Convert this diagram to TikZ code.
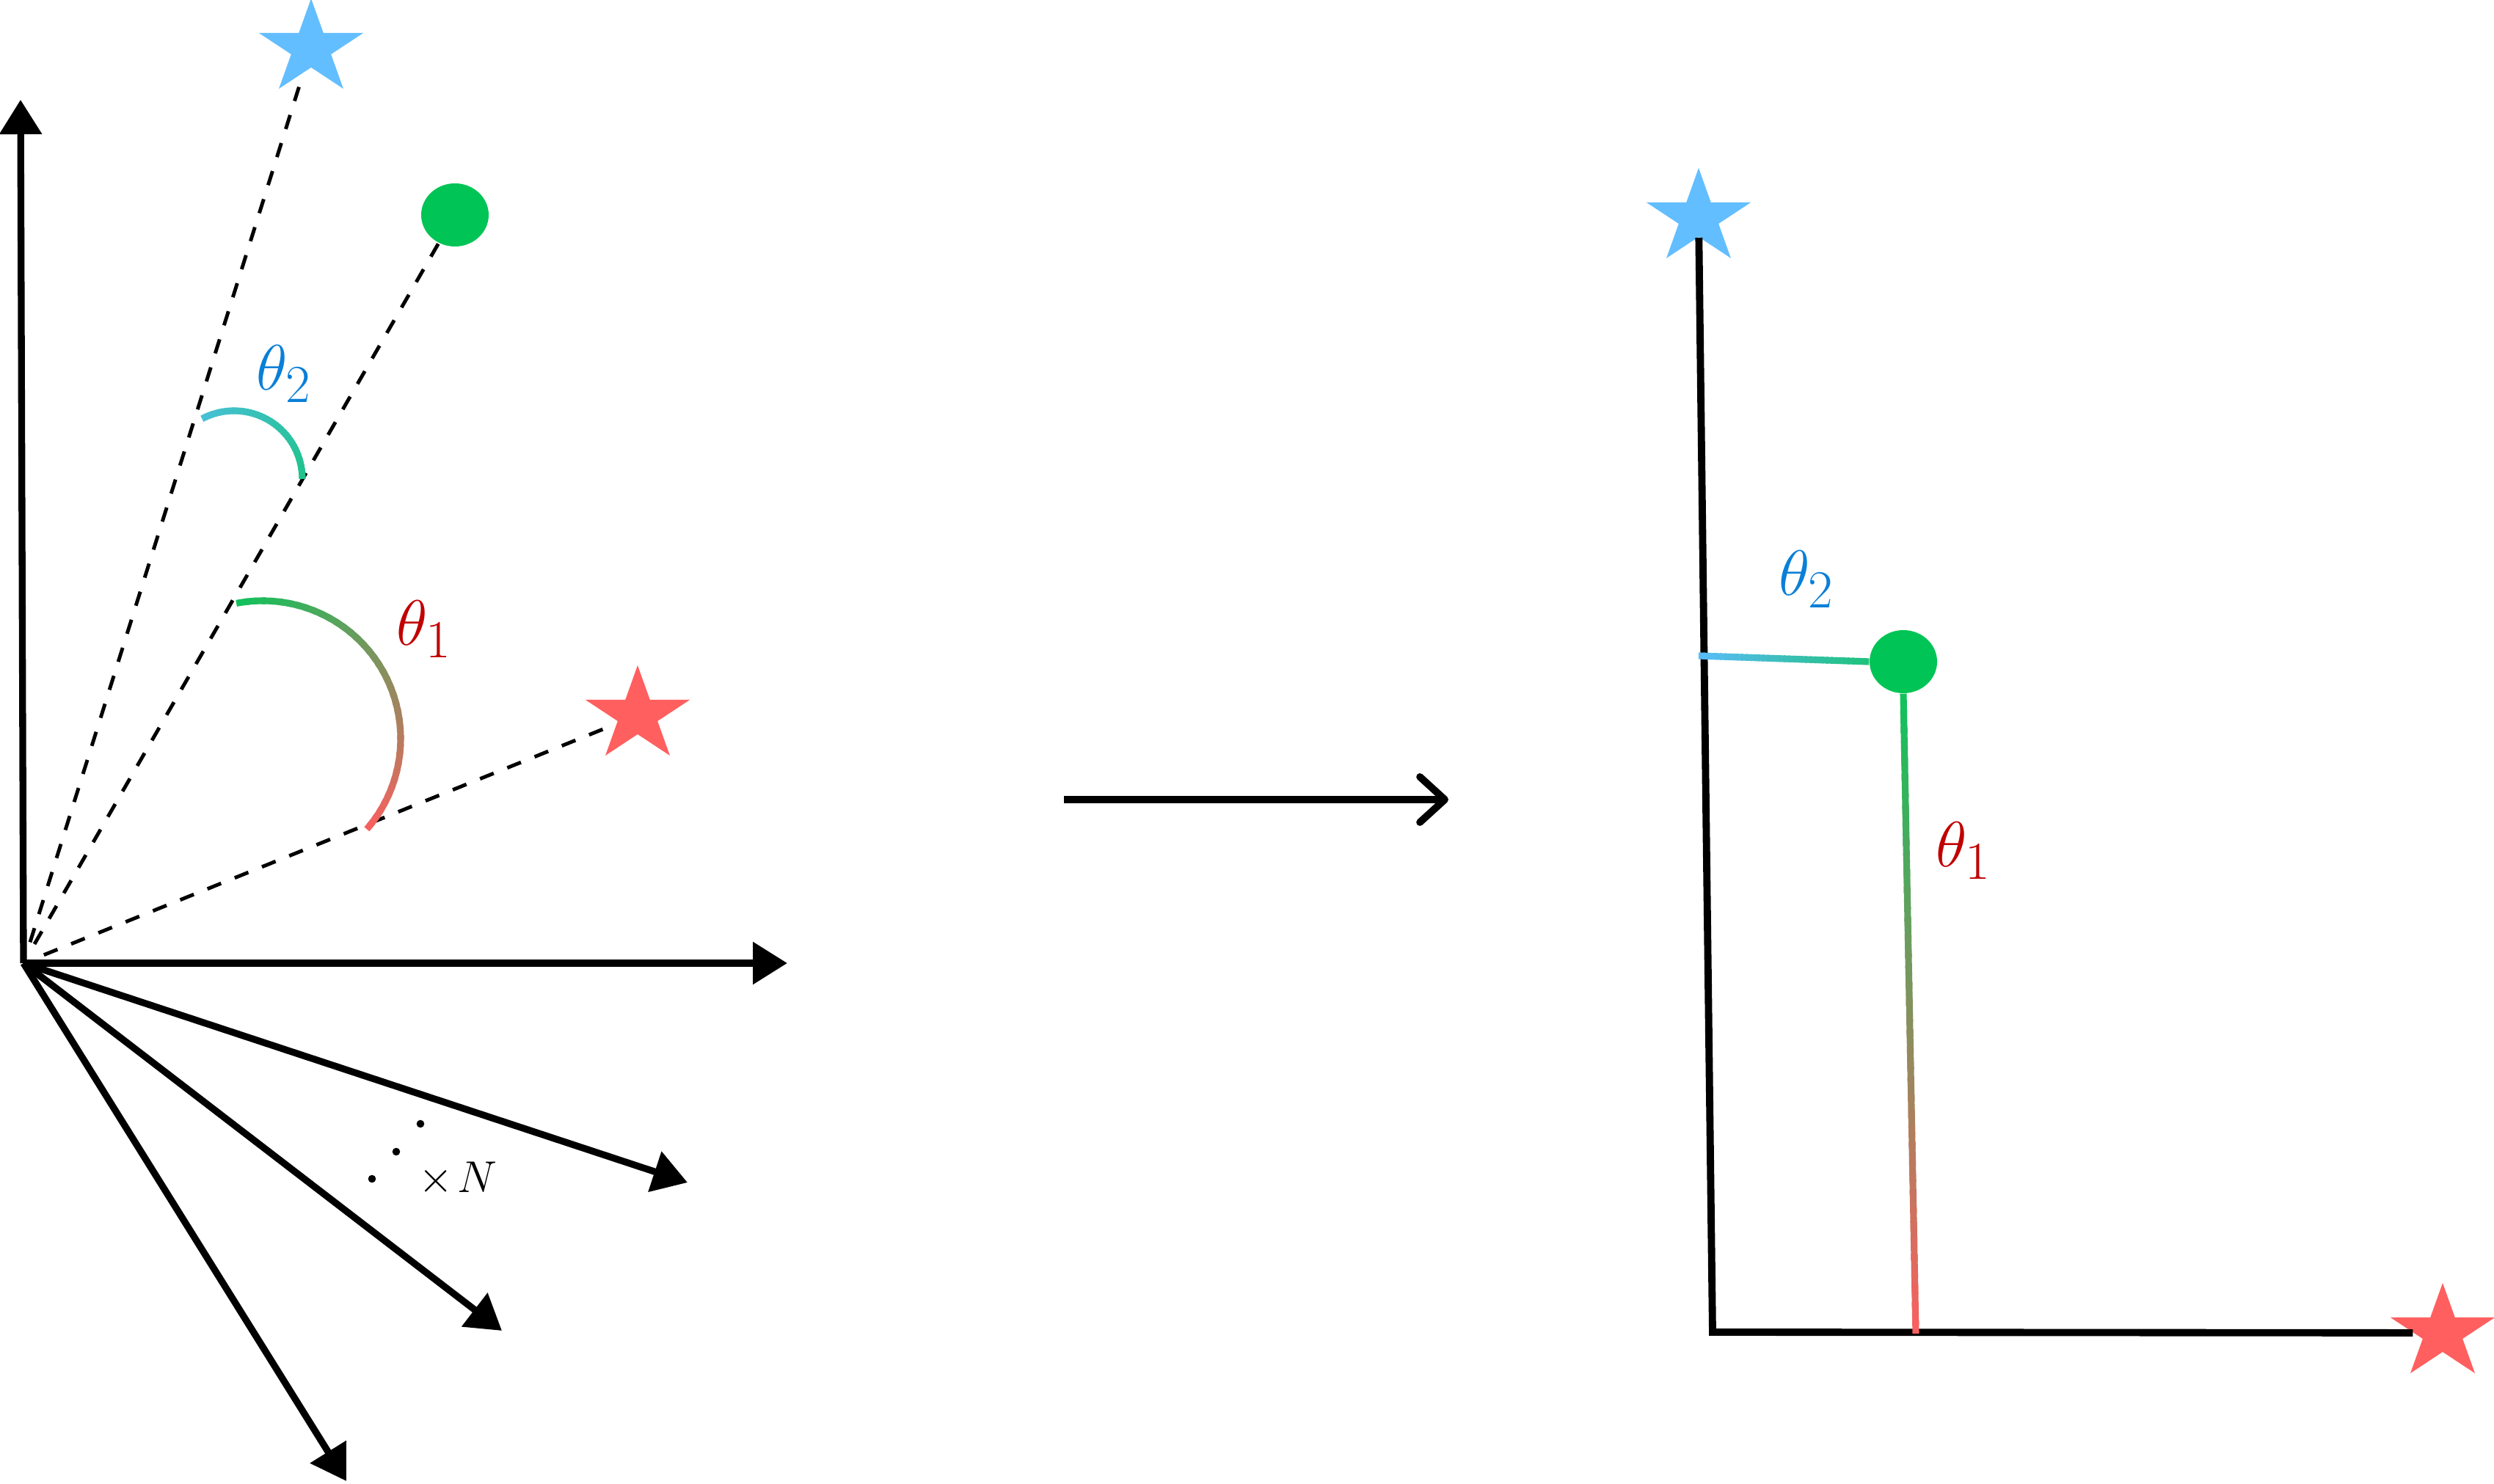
\documentclass[tikz,border=0pt]{standalone}
\usepackage{amsmath,amssymb}
\usepackage{tikz}
\usetikzlibrary{calc,arrows.meta,shapes.geometric}
\definecolor{skyblue}{HTML}{63BEFF}
\definecolor{coral}{HTML}{FF5F5F}
\definecolor{emerald}{HTML}{00C455}
\definecolor{thetablue}{HTML}{0A7FD8}
\definecolor{thetared}{HTML}{C00000}
\definecolor{tealA}{HTML}{48C0D6}
\definecolor{tealB}{HTML}{1EC38A}
\definecolor{leafA}{HTML}{10C25C}
\definecolor{roseB}{HTML}{FA5F5F}
\definecolor{iceA}{HTML}{5ABCFA}
\definecolor{iceB}{HTML}{1EC27A}

\tikzset{
  axis/.style={line width=2.65pt, -{Triangle[length=0.47cm,width=0.56cm]}},
  ray/.style={line width=1.4pt, dash pattern=on 5.7pt off 5.7pt, shorten <=0.3cm},
  frame/.style={line width=2.8pt},
  maparrow/.style={line width=2.8pt, -{Straight Barb[length=0.34cm,width=0.62cm,round]}},
  target/.style={star, star points=5, star point ratio=2.618, minimum size=1.36cm, inner sep=0pt, xscale=1.1, transform shape},
  spot/.style={ellipse, fill=emerald, minimum width=0.92cm, minimum height=0.86cm, inner sep=0pt},
  gradpen/.style={line width=2.6pt},
  anglelbl/.style={font=\Huge, inner sep=0pt},
}

% colour ramp along a straight line: from, to, colour at start, colour at end
\newcommand{\gradline}[4]{%
  \foreach \i in {0,...,39} {
    \pgfmathsetmacro{\tA}{\i/40}
    \pgfmathsetmacro{\tB}{min((\i+1.5)/40,1)}
    \pgfmathsetmacro{\mixpc}{100-100*(\i+0.5)/40}
    \draw[gradpen, draw=#3!\mixpc!#4] ($(#1)!\tA!(#2)$) -- ($(#1)!\tB!(#2)$);
  }}
% colour ramp along an arc: centre, radius, start angle, end angle, colours
\newcommand{\gradarc}[6]{%
  \foreach \i in {0,...,39} {
    \pgfmathsetmacro{\angA}{#3+(#4-#3)*\i/40}
    \pgfmathsetmacro{\angB}{#3+(#4-#3)*min(\i+1.5,40)/40}
    \pgfmathsetmacro{\mixpc}{100-100*(\i+0.5)/40}
    \draw[gradpen, draw=#5!\mixpc!#6] ($(#1)+(\angA:#2)$) arc[start angle=\angA, end angle=\angB, radius=#2];
  }}

\begin{document}
\begin{tikzpicture}
    \useasboundingbox (0,0) rectangle (33.99,20.23);

    % Left: points seen from the origin
    \coordinate (O) at (0.32,7.10);
    \coordinate (yTip) at (0.28,18.87);
    \coordinate (xTip) at (10.73,7.10);
    \coordinate (ray1) at (9.37,4.11);
    \coordinate (ray2) at (6.84,2.09);
    \coordinate (ray3) at (4.72,0.04);

    \node[target, fill=skyblue] (starB) at (4.24,19.57) {};
    \node[spot] (dotG) at (6.20,17.30) {};
    \node[target, fill=coral] (starR) at (8.69,10.48) {};

    % Sight lines
    \draw[ray] (O) -- (starB);
    \draw[ray] (O) -- (dotG);
    \draw[ray] (O) -- (starR);

    % Axes and extra directions
    \draw[axis] (O) -- (yTip);
    \draw[axis] (O) -- (xTip);
    \foreach \r in {ray1,ray2,ray3} {
        \draw[axis] (O) -- (\r);
    }
    \foreach \p in {(5.73,4.91),(5.40,4.53),(5.07,4.16)} {
        \fill \p circle (0.053);
    }
    \node[font=\fontsize{18.5}{22}\selectfont, inner sep=0pt] (times) at (6.24,4.16) {$\times\mkern1.5mu N$};

    % Angles
    \coordinate (arcTwo) at (3.19,13.70);
    \coordinate (arcOne) at (3.58,10.16);
    \gradarc{arcTwo}{0.93}{118}{0}{tealA}{tealB}
    \gradarc{arcOne}{1.88}{101}{-41}{leafA}{roseB}
    \node[anglelbl, text=thetablue] (lblTwo) at (3.87,15.13) {$\theta_2$};
    \node[anglelbl, text=thetared] (lblOne) at (5.78,11.65) {$\theta_1$};

    % Map
    \coordinate (mapFrom) at (14.50,9.33);
    \coordinate (mapTo) at (19.74,9.33);
    \draw[maparrow] (mapFrom) -- (mapTo);

    % Right: angles as coordinates
    \node[target, fill=skyblue] (starB2) at (23.15,17.26) {};
    \node[target, fill=coral] (starR2) at (33.29,2.06) {};
    \node[spot] (dotG2) at (25.94,11.21) {};
    \coordinate (corner) at (23.34,2.07);
    \coordinate (wallHit) at (23.15,11.29);
    \coordinate (floorHit) at (26.11,2.05);

    \draw[frame] (starB2) -- (corner) -- (starR2);
    \gradline{wallHit}{dotG2.west}{iceA}{iceB}
    \gradline{dotG2.south}{floorHit}{leafA}{roseB}

    \node[anglelbl, text=thetablue] (lblTwo2) at (24.62,12.33) {$\theta_2$};
    \node[anglelbl, text=thetared] (lblOne2) at (26.76,8.63) {$\theta_1$};
\end{tikzpicture}
\end{document}
